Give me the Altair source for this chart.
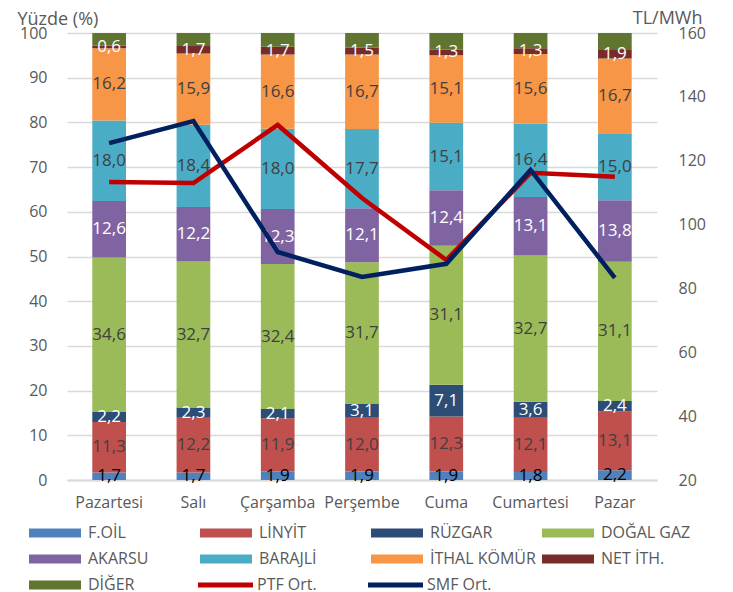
import altair as alt
import pandas as pd

days = ["Pazartesi", "Salı", "Çarşamba", "Perşembe", "Cuma", "Cumartesi", "Pazar"]

series = ["F.OİL", "LİNYİT", "RÜZGAR", "DOĞAL GAZ", "AKARSU", "BARAJLİ", "İTHAL KÖMÜR", "NET İTH.", "DİĞER"]
colors = ["#4F81BD", "#C0504D", "#2C4D75", "#9BBB59", "#8064A2", "#4BACC6", "#F79646", "#772C2A", "#5F7530"]
label_colors = ["#000000", "#404040", "#FFFFFF", "#404040", "#FFFFFF", "#404040", "#404040", "#FFFFFF", None]

foil = [1.7, 1.7, 1.9, 1.9, 1.9, 1.8, 2.2]
linyit = [11.3, 12.2, 11.9, 12.0, 12.3, 12.1, 13.1]
ruzgar = [2.2, 2.3, 2.1, 3.1, 7.1, 3.6, 2.4]
dogalgaz = [34.6, 32.7, 32.4, 31.7, 31.1, 32.7, 31.1]
akarsu = [12.6, 12.2, 12.3, 12.1, 12.4, 13.1, 13.8]
barajli = [18.0, 18.4, 18.0, 17.7, 15.1, 16.4, 15.0]
ithal = [16.2, 15.9, 16.6, 16.7, 15.1, 15.6, 16.7]
netith = [0.6, 1.7, 1.7, 1.5, 1.3, 1.3, 1.9]
diger = [2.8, 2.9, 3.1, 3.3, 3.7, 3.4, 3.8]

ptf = [113.3, 113.0, 131.2, 108.3, 88.9, 116.2, 115.0]
smf = [125.5, 132.4, 91.4, 83.6, 87.7, 117.1, 83.3]

line_series = ["PTF Ort.", "SMF Ort."]
line_colors = ["#C00000", "#002060"]

values = [foil, linyit, ruzgar, dogalgaz, akarsu, barajli, ithal, netith, diger]

rows = []
for di, d in enumerate(days):
    cum = 0.0
    for si, s in enumerate(series):
        v = values[si][di]
        rows.append({
            "day": d, "series": s, "idx": si, "value": v,
            "mid": cum + v / 2,
            "label": f"{v:.1f}".replace(".", ","),
            "tcolor": label_colors[si] if label_colors[si] else "#000000",
            "show": label_colors[si] is not None,
        })
        cum += v
df_bars = pd.DataFrame(rows)
df_labels = df_bars[df_bars["show"]].copy()

lrows = []
for name, arr in zip(line_series, [ptf, smf]):
    for d, v in zip(days, arr):
        lrows.append({"day": d, "series": name, "price": v})
df_lines = pd.DataFrame(lrows)

FONT = "Open Sans"
GRAY = "#595959"

xenc = alt.X("day:N", sort=days, title=None,
             scale=alt.Scale(paddingInner=0.6, paddingOuter=0.3),
             axis=alt.Axis(labelAngle=0, labelFont=FONT, labelFontSize=16, labelColor=GRAY,
                           ticks=False, domainColor="#D9D9D9", domainWidth=2, labelPadding=14))

fill_legend = alt.Legend(orient="none", legendX=-41, legendY=492, columns=4, direction="horizontal",
                         symbolType="M-1,-0.9H9.4V0.9H-1Z", symbolSize=100, labelOffset=46,
                         gridAlign="all", columnPadding=3, rowPadding=10,
                         labelFont=FONT, labelFontSize=16, labelColor=GRAY, title=None,
                         padding=0, symbolStrokeWidth=0, symbolOpacity=1)

stroke_legend = alt.Legend(orient="none", legendX=128, legendY=544, columns=2, direction="horizontal",
                           symbolType="M-1,0H10", symbolSize=100, labelOffset=46,
                           gridAlign="all", columnPadding=36,
                           labelFont=FONT, labelFontSize=16, labelColor=GRAY, title=None,
                           padding=0, symbolStrokeWidth=5, symbolOpacity=1)

bars = alt.Chart(df_bars).mark_bar().encode(
    x=xenc,
    y=alt.Y("value:Q", stack="zero",
            scale=alt.Scale(domain=[0, 100]),
            axis=alt.Axis(values=list(range(0, 101, 10)), title="Yüzde (%)", titleAngle=0,
                          titleX=-50, titleY=-14, titleAlign="left", titleBaseline="middle",
                          titleFont=FONT, titleFontSize=18, titleFontWeight="normal", titleColor=GRAY,
                          labelFont=FONT, labelFontSize=16, labelColor=GRAY, labelPadding=20,
                          ticks=False, domain=False, gridColor="#D9D9D9", gridWidth=1.5)),
    color=alt.Color("series:N", scale=alt.Scale(domain=series, range=colors), legend=fill_legend),
    order=alt.Order("idx:Q"),
)

labels = alt.Chart(df_labels).mark_text(font=FONT, fontSize=17, baseline="middle").encode(
    x=alt.X("day:N", sort=days),
    y=alt.Y("mid:Q"),
    text="label:N",
    fill=alt.Fill("tcolor:N", scale=None),
)

left = alt.layer(bars, labels)

lines = alt.Chart(df_lines).mark_line(strokeWidth=4.5).encode(
    x=alt.X("day:N", sort=days),
    y=alt.Y("price:Q", scale=alt.Scale(domain=[20, 160]),
            axis=alt.Axis(orient="right", values=list(range(20, 161, 20)), title="TL/MWh",
                          titleAngle=0, titleX=45, titleY=-15, titleAlign="right",
                          titleBaseline="middle", titleFont=FONT, titleFontSize=18,
                          titleFontWeight="normal", titleColor=GRAY,
                          labelFont=FONT, labelFontSize=16, labelColor=GRAY, labelPadding=21,
                          ticks=False, domain=False, grid=False)),
    stroke=alt.Stroke("series:N", scale=alt.Scale(domain=line_series, range=line_colors),
                      legend=stroke_legend),
)

chart = alt.layer(left, lines).resolve_scale(y="independent").properties(
    width=590, height=447,
    autosize=alt.AutoSizeParams(type="none"),
    padding={"left": 59, "top": 25, "right": 68, "bottom": 112},
).configure_view(stroke=None)

chart.save("out.html", embed_options={"renderer": "svg", "actions": False})
